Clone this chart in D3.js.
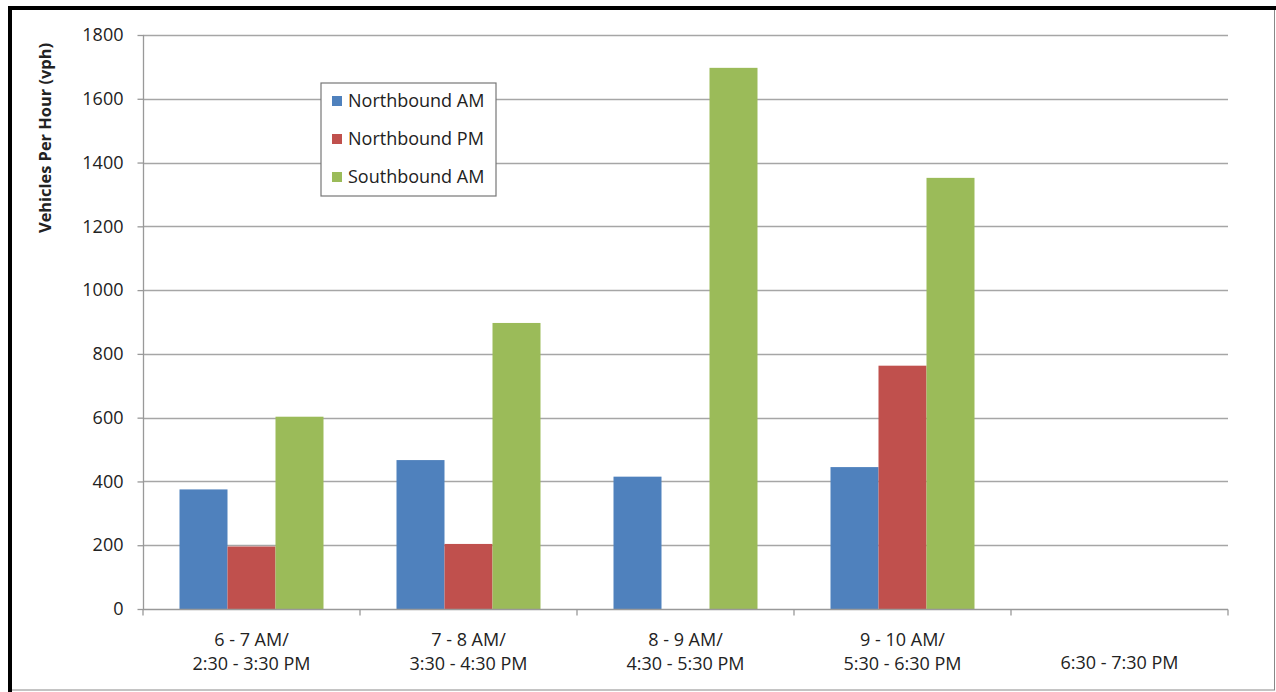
<!DOCTYPE html>
<html>
<head>
<meta charset="utf-8">
<script src="https://cdn.jsdelivr.net/npm/d3@7"></script>
<style>
  html, body { margin: 0; padding: 0; background: #fff; }
  svg { display: block; }
  text { font-family: "Open Sans", "Noto Sans", sans-serif; fill: #222; }
</style>
</head>
<body>
<svg id="chart" width="1276" height="692"></svg>
<script>
const categories = [
  ["6 - 7 AM/", "2:30 - 3:30 PM"],
  ["7 - 8 AM/", "3:30 - 4:30 PM"],
  ["8 - 9 AM/", "4:30 - 5:30 PM"],
  ["9 - 10 AM/", "5:30 - 6:30 PM"],
  ["6:30 - 7:30 PM"]
];
const seriesNames = ["Northbound AM", "Northbound PM", "Southbound AM"];
const northboundAM = [375, 467, 415, 445, null];
const northboundPM = [196, 204, null, 763, null];
const southboundAM = [603, 897, 1697, 1352, null];
const yTicks = [0, 200, 400, 600, 800, 1000, 1200, 1400, 1600, 1800];
const colors = ["#4F81BD", "#C0504D", "#9BBB59"];
const yTitle = "Vehicles Per Hour (vph)";

(function () {
const series = [northboundAM, northboundPM, southboundAM];
const svg = d3.select("#chart");

// frame
svg.append("rect").attr("x", 10).attr("y", 8).attr("width", 1264.5).attr("height", 682)
  .attr("fill", "none").attr("stroke", "#888").attr("stroke-width", 1);
svg.append("rect").attr("x", 8).attr("y", 6).attr("width", 1268).attr("height", 4).attr("fill", "#000");
svg.append("rect").attr("x", 8).attr("y", 6).attr("width", 4).attr("height", 686).attr("fill", "#000");

const pLeft = 143, pRight = 1228, pTop = 35, pBottom = 609;
const x0 = d3.scaleBand().domain(d3.range(categories.length)).range([pLeft, pRight]).paddingInner(0).paddingOuter(0);
const bw = x0.bandwidth();
const y = d3.scaleLinear().domain([0, 1800]).range([pBottom, pTop]);

// gridlines
svg.append("g").selectAll("line").data(yTicks.filter(d => d > 0)).join("line")
  .attr("x1", pLeft).attr("x2", pRight)
  .attr("y1", d => Math.round(y(d)) + 0.5).attr("y2", d => Math.round(y(d)) + 0.5)
  .attr("stroke", "#a6a6a6").attr("stroke-width", 1.3);

// bars
const groupWidth = bw * 144 / 217;
const gx = d3.scaleBand().domain(d3.range(series.length)).range([(bw - groupWidth) / 2, (bw + groupWidth) / 2]);
series.forEach((vals, si) => {
  svg.append("g").selectAll("rect").data(vals.map((v, i) => ({v, i})).filter(d => d.v != null)).join("rect")
    .attr("x", d => x0(d.i) + gx(si))
    .attr("y", d => y(d.v))
    .attr("width", gx.bandwidth())
    .attr("height", d => y(0) - y(d.v))
    .attr("fill", colors[si]);
});

// y axis
const yAxis = d3.axisLeft(y).tickValues(yTicks).tickSize(6).tickPadding(14).tickFormat(d3.format("d"));
const yg = svg.append("g").attr("transform", `translate(${pLeft + 0.5},0)`).call(yAxis);
yg.select(".domain").attr("stroke", "#999").attr("stroke-width", 1.3).attr("d", `M0,${y(0)}V${y(1800)}`);
yg.selectAll(".tick line").attr("stroke", "#999").attr("stroke-width", 1.3);
yg.selectAll(".tick text").attr("font-size", 18).attr("fill", "#222")
  .attr("font-family", "Open Sans, Noto Sans, sans-serif");

// x axis
const xg = svg.append("g").attr("transform", `translate(0,${pBottom + 0.5})`);
xg.append("line").attr("x1", pLeft).attr("x2", pRight).attr("y1", 0).attr("y2", 0)
  .attr("stroke", "#999").attr("stroke-width", 1.3);
xg.selectAll("line.tk").data(d3.range(categories.length + 1)).join("line").attr("class", "tk")
  .attr("x1", i => i < categories.length ? x0(i) : pRight).attr("x2", i => i < categories.length ? x0(i) : pRight)
  .attr("y1", 0).attr("y2", 6).attr("stroke", "#999").attr("stroke-width", 1.3);
const labels = xg.selectAll("text.cat").data(categories).join("text").attr("class", "cat")
  .attr("text-anchor", "middle").attr("font-size", 18)
  .attr("transform", (d, i) => `translate(${x0(i) + bw / 2},0)`);
labels.each(function(d) {
  const t = d3.select(this);
  const startY = d.length === 2 ? 36 : 59;
  d.forEach((line, k) => {
    t.append("tspan").attr("x", 0).attr("y", startY + k * 24).text(line);
  });
});

// y title
svg.append("text").attr("transform", `translate(51,138) rotate(-90)`)
  .attr("text-anchor", "middle").attr("font-size", 16.4).attr("font-weight", "bold")
  .text(yTitle);

// legend
const lg = svg.append("g").attr("transform", "translate(321,83)");
lg.append("rect").attr("x", 0).attr("y", 0).attr("width", 175).attr("height", 113)
  .attr("fill", "#fff").attr("stroke", "#777").attr("stroke-width", 1.2);
seriesNames.forEach((name, i) => {
  const cy = 18 + i * 38;
  lg.append("rect").attr("x", 11).attr("y", cy - 5).attr("width", 10).attr("height", 10).attr("fill", colors[i]);
  lg.append("text").attr("x", 27).attr("y", cy + 6).attr("font-size", 18).text(name);
});
})();
</script>
</body>
</html>
